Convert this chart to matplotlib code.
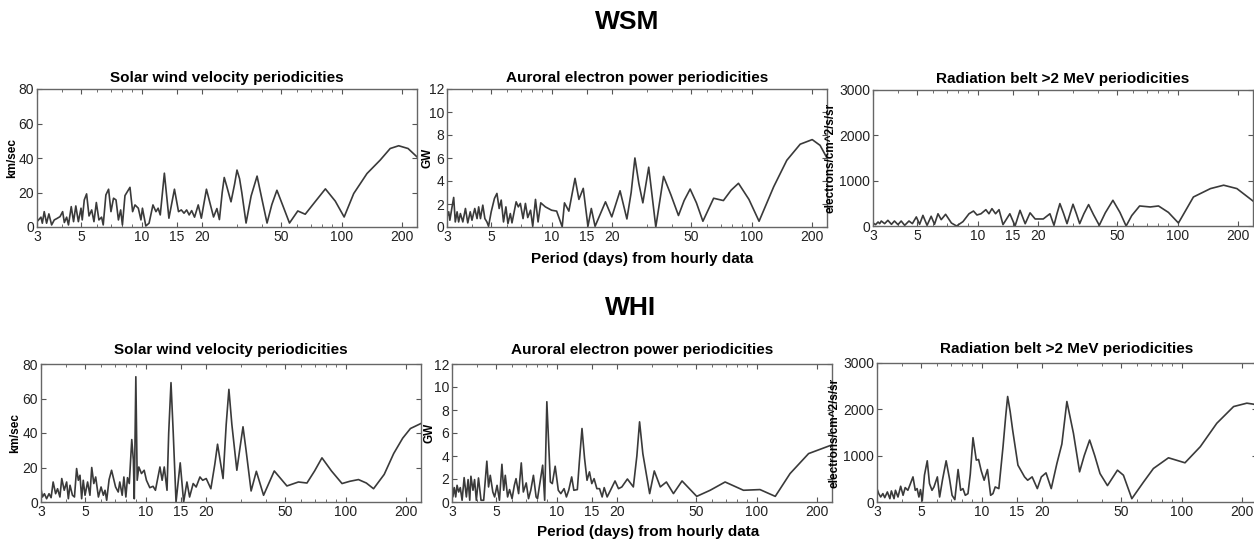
import matplotlib
matplotlib.use("Agg")
import matplotlib.pyplot as plt
from matplotlib.ticker import NullFormatter, FixedLocator, LogLocator

plt.rcParams['font.family'] = ['Liberation Sans', 'DejaVu Sans']

# WSM - solar wind velocity (period in days, km/sec)
wsm_sw_period = [3.00, 3.14, 3.19, 3.26, 3.35, 3.44, 3.55, 3.66, 3.77, 3.91, 4.03, 4.11, 4.22, 4.31,
                 4.45, 4.57, 4.69, 4.83, 4.98, 5.05, 5.17, 5.31, 5.46, 5.63, 5.78, 5.94, 6.12, 6.31,
                 6.43, 6.63, 6.84, 7.03, 7.24, 7.45, 7.66, 7.86, 8.02, 8.26, 8.75, 9.02, 9.27, 9.63,
                 9.93, 10.1, 10.5, 10.9, 11.4, 11.8, 12.1, 12.4, 13.0, 13.7, 14.6, 15.3, 15.8, 16.3,
                 16.8, 17.3, 17.8, 18.4, 19.2, 19.9, 21.1, 22.9, 23.8, 24.5, 25.3, 25.9, 26.6, 28.0,
                 29.2, 30.0, 30.9, 31.7, 33.3, 35.3, 37.8, 40.0, 42.4, 44.8, 47.5, 51.0, 54.9, 60.4,
                 65.8, 73.0, 83.0, 93.0, 103, 115, 134, 156, 175, 193, 215, 238]
wsm_sw_value = [3.1, 5.7, 2.2, 8.9, 2.2, 7.6, 1.2, 4.1, 4.9, 6.0, 8.9, 2.6, 5.7, 1.2,
                11.8, 3.1, 12.2, 3.1, 10.9, 4.1, 15.7, 19.2, 6.4, 9.9, 3.1, 14.2, 4.1, 5.7,
                1.2, 18.6, 21.9, 8.9, 16.7, 15.7, 4.1, 9.9, 1.2, 18.2, 23.0, 8.9, 12.8, 10.9,
                4.1, 10.9, 0.6, 2.2, 12.8, 8.9, 10.9, 7.0, 31.2, 5.1, 21.9, 8.9, 9.9, 8.0,
                9.9, 7.0, 9.5, 5.7, 12.8, 5.1, 21.9, 5.8, 10.7, 4.3, 20.0, 28.7, 24.0, 14.6,
                25.0, 33.0, 28.0, 20.0, 2.3, 18.0, 29.5, 16.0, 2.3, 13.0, 21.3, 12.0, 2.3, 9.3,
                7.4, 14.0, 22.1, 15.0, 5.8, 19.4, 31.0, 38.8, 45.5, 47.1, 45.5, 40.7]

# WSM - auroral electron power (GW)
wsm_ae_period = [3.00, 3.06, 3.10, 3.18, 3.24, 3.30, 3.37, 3.43, 3.50, 3.60, 3.71, 3.81, 3.92, 4.00,
                 4.13, 4.24, 4.32, 4.41, 4.53, 4.64, 4.75, 4.84, 4.99, 5.18, 5.33, 5.47, 5.60, 5.75,
                 5.91, 6.05, 6.22, 6.34, 6.65, 6.82, 6.98, 7.20, 7.40, 7.60, 7.85, 8.05, 8.31, 8.56,
                 8.83, 9.31, 10.0, 10.6, 11.0, 11.3, 11.6, 12.2, 13.1, 13.7, 14.4, 15.2, 15.8, 16.5,
                 18.6, 20.0, 22.0, 23.8, 25.0, 26.1, 27.3, 28.6, 30.6, 33.2, 36.3, 39.5, 43.1, 46.0,
                 49.3, 53.0, 57.1, 64.6, 72.3, 79.0, 86.0, 97.0, 109, 129, 150, 175, 201, 220, 240]
wsm_ae_value = [0.88, 1.32, 0.59, 1.75, 2.57, 0.44, 1.32, 0.44, 1.17, 0.44, 1.61, 0.36, 1.32, 0.59,
                1.61, 0.73, 1.75, 0.73, 1.90, 0.73, 0.44, 0.06, 1.32, 2.48, 2.92, 1.61, 2.34, 0.44,
                1.75, 0.30, 1.17, 0.36, 2.19, 1.75, 2.05, 0.73, 2.05, 0.82, 1.46, 0.06, 2.40, 0.44,
                2.10, 1.75, 1.46, 1.38, 0.59, 0.01, 2.10, 1.38, 4.23, 2.40, 3.36, 0.06, 1.61, 0.06,
                2.19, 0.88, 3.15, 0.70, 3.0, 6.0, 3.8, 2.1, 5.2, 0.0, 4.4, 2.8, 1.0, 2.3,
                3.3, 2.1, 0.5, 2.5, 2.3, 3.2, 3.8, 2.4, 0.5, 3.5, 5.8, 7.2, 7.6, 7.1, 5.9]

# WSM - radiation belt >2 MeV (electrons/cm^2/s/sr)
wsm_rb_period = [3.00, 3.09, 3.18, 3.24, 3.30, 3.43, 3.56, 3.71, 3.84, 4.00, 4.15, 4.32, 4.54, 4.72,
                 4.94, 5.13, 5.33, 5.59, 5.86, 6.09, 6.34, 6.58, 6.92, 7.40, 7.85, 8.45, 9.06, 9.54,
                 9.93, 10.4, 11.0, 11.4, 11.8, 12.3, 12.8, 13.4, 14.5, 15.4, 16.3, 17.3, 18.3, 19.4,
                 21.3, 23.0, 24.1, 24.9, 25.8, 26.9, 28.0, 29.0, 30.0, 31.2, 32.4, 34.0, 35.9, 38.0,
                 40.6, 43.5, 47.5, 51.5, 55.3, 59.0, 64.6, 73.0, 80.3, 90.0, 101, 110, 120, 146,
                 170, 198, 238]
wsm_rb_value = [66, 30, 88, 52, 110, 52, 125, 37, 110, 30, 110, 15, 110, 52,
                200, 37, 235, 15, 215, 37, 270, 140, 258, 66, 0, 96, 270, 330,
                243, 270, 360, 270, 383, 270, 360, 30, 270, 0, 346, 50, 290, 155,
                155, 270, 15, 260, 494, 280, 52, 270, 480, 270, 52, 270, 472, 250,
                15, 290, 567, 300, 0, 230, 442, 420, 442, 300, 66, 350, 640, 825,
                900, 825, 553]

# WHI - solar wind velocity
whi_sw_period = [3.00, 3.05, 3.12, 3.20, 3.29, 3.37, 3.45, 3.55, 3.63, 3.73, 3.81, 3.92, 4.03, 4.11,
                 4.19, 4.31, 4.41, 4.52, 4.61, 4.70, 4.79, 4.88, 4.98, 5.13, 5.27, 5.38, 5.51, 5.63,
                 5.81, 5.99, 6.15, 6.27, 6.39, 6.57, 6.76, 7.08, 7.30, 7.43, 7.64, 7.79, 7.97, 8.12,
                 8.29, 8.53, 8.69, 8.78, 8.94, 9.08, 9.25, 9.54, 9.84, 10.1, 10.5, 10.9, 11.2, 11.8,
                 12.1, 12.4, 12.8, 13.05, 13.4, 13.75, 14.2, 14.9, 15.5, 16.1, 16.6, 17.3, 17.9, 18.7,
                 19.3, 20.1, 21.2, 22.2, 22.9, 23.6, 24.4, 25.3, 26.1, 27.0, 28.6, 29.7, 30.7, 31.8,
                 33.7, 35.8, 38.9, 44.0, 50.9, 58.1, 64.1, 70.0, 76.2, 85.0, 96.0, 105, 116, 127,
                 138, 156, 174, 193, 211, 238]
whi_sw_value = [7.7, 2.9, 4.8, 1.9, 4.8, 2.5, 11.6, 4.8, 7.7, 2.9, 13.6, 6.8, 11.6, 1.9,
                9.7, 3.9, 2.9, 19.4, 12.6, 15.5, 1.9, 12.6, 3.9, 11.6, 3.9, 20.0, 10.7, 14.5,
                2.9, 8.7, 3.9, 6.8, 1.0, 13.0, 18.4, 8.7, 5.8, 11.6, 3.9, 14.5, 2.9, 14.1,
                10.7, 36.2, 24.2, 1.9, 72.6, 12.6, 20.3, 16.5, 18.4, 12.6, 8.3, 9.1, 6.8, 20.3,
                12.6, 20.3, 6.8, 40.0, 69.2, 40.0, 0.0, 22.7, 0.0, 11.6, 2.9, 10.7, 8.7, 14.5,
                12.6, 13.6, 7.7, 22.0, 33.5, 24.0, 13.6, 45.0, 65.3, 45.0, 18.4, 32.0, 43.6, 30.0,
                6.4, 17.8, 3.9, 18.0, 9.3, 11.6, 11.0, 18.0, 25.6, 18.0, 10.7, 12.0, 13.0, 11.0,
                7.7, 16.0, 28.1, 37.0, 42.6, 45.5]

# WHI - auroral electron power
whi_ae_period = [3.00, 3.03, 3.08, 3.13, 3.18, 3.24, 3.30, 3.37, 3.45, 3.54, 3.61, 3.68, 3.73, 3.82,
                 3.89, 3.97, 4.07, 4.19, 4.32, 4.48, 4.57, 4.66, 4.80, 4.90, 5.04, 5.18, 5.33, 5.44,
                 5.54, 5.69, 5.82, 5.99, 6.15, 6.27, 6.46, 6.66, 6.82, 7.05, 7.24, 7.43, 7.66, 7.90,
                 8.03, 8.22, 8.52, 8.72, 8.94, 9.31, 9.52, 9.84, 10.2, 10.5, 10.9, 11.2, 11.5, 11.9,
                 12.2, 12.7, 13.0, 13.4, 13.8, 14.2, 14.6, 15.0, 15.4, 15.9, 16.4, 16.9, 17.3, 17.9,
                 18.6, 19.6, 20.4, 21.2, 22.6, 24.2, 25.2, 26.0, 27.0, 29.2, 30.8, 33.0, 35.4, 38.4,
                 42.4, 50.2, 58.6, 69.6, 86.0, 104, 124, 147, 182, 241]
whi_ae_value = [1.74, 0.44, 1.25, 0.44, 1.45, 0.87, 1.25, 0.15, 2.12, 0.44, 1.95, 0.15, 2.24, 1.02,
                1.95, 0.15, 2.09, 0.15, 0.15, 3.55, 1.31, 2.32, 0.87, 0.44, 1.45, 0.15, 3.28, 1.02,
                2.32, 0.44, 1.08, 0.29, 1.45, 2.03, 0.73, 3.40, 0.87, 1.66, 0.29, 1.02, 2.32, 0.44,
                0.29, 1.45, 3.20, 0.15, 8.72, 1.74, 1.60, 3.11, 1.02, 0.73, 1.16, 0.44, 1.02, 2.18,
                1.02, 1.08, 3.5, 6.39, 3.8, 1.89, 2.62, 1.60, 2.03, 1.16, 1.16, 0.44, 1.25, 0.44,
                1.02, 1.83, 1.16, 1.31, 2.0, 1.31, 4.0, 6.97, 4.2, 0.73, 2.70, 1.31, 1.74, 0.73,
                1.83, 0.49, 1.02, 1.74, 1.02, 1.08, 0.49, 2.47, 4.21, 5.0]

# WHI - radiation belt >2 MeV
whi_rb_period = [3.00, 3.06, 3.13, 3.21, 3.28, 3.38, 3.48, 3.54, 3.65, 3.71, 3.82, 3.94, 4.05, 4.15,
                 4.28, 4.41, 4.54, 4.66, 4.76, 4.86, 4.95, 5.05, 5.18, 5.35, 5.49, 5.65, 5.78, 6.01,
                 6.17, 6.38, 6.65, 6.91, 7.12, 7.35, 7.63, 7.86, 8.07, 8.29, 8.55, 8.78, 9.06, 9.41,
                 9.66, 9.96, 10.3, 10.7, 11.1, 11.4, 11.7, 12.2, 12.8, 13.2, 13.5, 13.9, 14.3, 15.2,
                 16.4, 17.0, 17.9, 19.0, 19.9, 21.0, 22.3, 23.8, 25.2, 26.7, 28.8, 30.9, 32.6, 34.7,
                 36.8, 39.1, 42.6, 47.8, 51.2, 56.4, 64.6, 72.3, 86.0, 104, 124, 150, 182, 212, 229, 240]
whi_rb_value = [289, 181, 108, 181, 94, 217, 72, 239, 72, 253, 108, 340, 145, 311,
                253, 398, 542, 253, 289, 108, 268, 22, 578, 889, 398, 253, 325, 542,
                108, 484, 889, 506, 145, 51, 701, 253, 289, 145, 181, 600, 1388, 904,
                918, 672, 470, 701, 145, 181, 325, 289, 1193, 1850, 2277, 1950, 1554, 795,
                542, 470, 542, 289, 542, 629, 289, 831, 1250, 2169, 1482, 651, 1000, 1337,
                1000, 614, 354, 687, 578, 72, 434, 723, 954, 846, 1193, 1699, 2060, 2133, 2111, 2080]

titles = ["Solar wind velocity periodicities", "Auroral electron power periodicities",
          "Radiation belt >2 MeV periodicities"]
ylabels = ["km/sec", "GW", "electrons/cm^2/s/sr"]
ylims = [80, 12, 3000]
yticks = [[0, 20, 40, 60, 80], [0, 2, 4, 6, 8, 10, 12], [0, 1000, 2000, 3000]]
xticks = [3, 5, 10, 15, 20, 50, 100, 200]

W, H = 1254, 541
fig = plt.figure(figsize=(W / 100, H / 100), dpi=100)

# axes boxes in pixels: left, top, right, bottom, and x of the ylabel's right edge
boxes = [(37, 89, 417, 227, 18), (447, 89, 827, 227, 434), (873, 90, 1253, 226, 836),
         (41, 364, 421, 502, 21), (452, 364, 832, 502, 436), (877, 363, 1257, 502, 840)]
data = [(wsm_sw_period, wsm_sw_value), (wsm_ae_period, wsm_ae_value), (wsm_rb_period, wsm_rb_value),
        (whi_sw_period, whi_sw_value), (whi_ae_period, whi_ae_value), (whi_rb_period, whi_rb_value)]

for i, (box, (px, py)) in enumerate(zip(boxes, data)):
    l, t, r, b, lx = box
    ax = fig.add_axes([l / W, 1 - b / H, (r - l) / W, (b - t) / H])
    k = i % 3
    ax.plot(px, py, color='#3a3a3a', lw=1.2)
    ax.set_xscale('log')
    ax.set_xlim(3, 3 * 10 ** ((r - l) / 200))
    ax.set_ylim(0, ylims[k])
    ax.xaxis.set_major_locator(FixedLocator(xticks))
    ax.set_xticklabels([str(v) for v in xticks])
    ax.xaxis.set_minor_locator(LogLocator(subs=range(2, 10)))
    ax.xaxis.set_minor_formatter(NullFormatter())
    ax.set_yticks(yticks[k])
    ax.tick_params(which='both', direction='in', top=True, right=True, labelsize=10,
                   color='#555555', labelcolor='#222222', pad=2)
    ax.tick_params(which='major', length=3.5)
    ax.tick_params(which='minor', length=2.5)
    for s in ax.spines.values():
        s.set_color('#666666')
        s.set_linewidth(1.0)
    pad = 5 if i < 3 else 7
    ax.set_title(titles[k], fontsize=11, fontweight='bold', pad=pad)
    ax.set_ylabel(ylabels[k], fontsize=8.5, fontweight='bold')
    ax.yaxis.set_label_coords((lx - l) / (r - l), 0.5)

fig.text(0.5, 1 - 22 / H, "WSM", ha='center', va='center', fontsize=19, fontweight='bold')
fig.text(0.503, 1 - 308 / H, "WHI", ha='center', va='center', fontsize=19, fontweight='bold')
fig.text(642 / W, 1 - 259 / H, "Period (days) from hourly data", ha='center', va='center',
         fontsize=11, fontweight='bold')
fig.text(648 / W, 1 - 532 / H, "Period (days) from hourly data", ha='center', va='center',
         fontsize=11, fontweight='bold')

fig.savefig("out.png", dpi=100)
